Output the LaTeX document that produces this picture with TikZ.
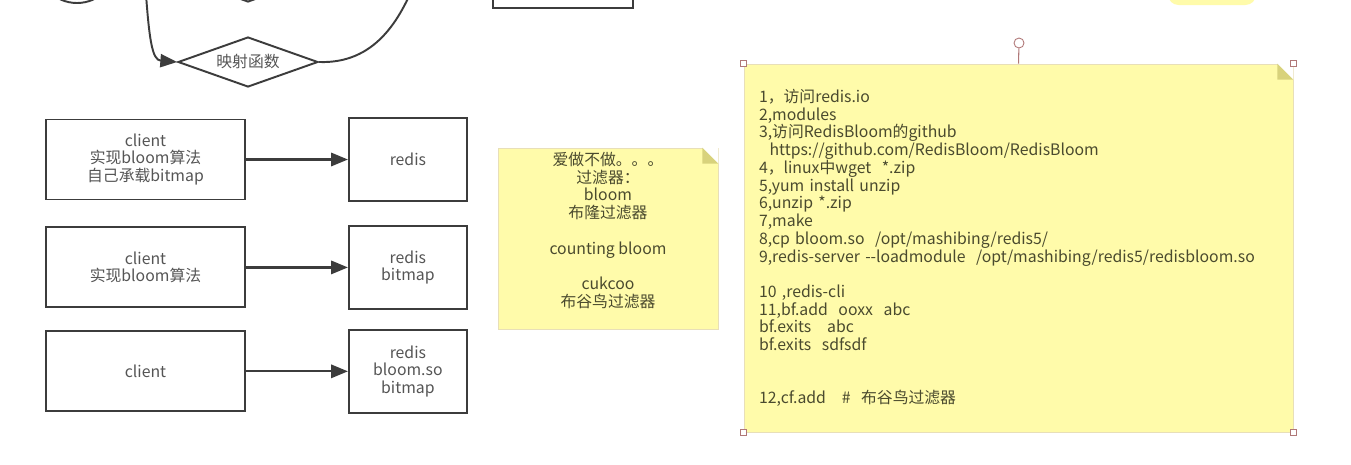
\documentclass[tikz,border=0pt]{standalone}
\usepackage{fontspec}
\setmainfont{Noto Sans CJK SC}
\usetikzlibrary{positioning, arrows.meta, shapes.geometric}

\definecolor{linegray}{HTML}{3C3C3C}
\definecolor{textgray}{HTML}{555555}
\definecolor{notefill}{HTML}{FFFBAA}
\definecolor{noteedge}{HTML}{E8DFB8}
\definecolor{notefold}{HTML}{D8D27C}
\definecolor{notetext}{HTML}{4A4A2E}
\definecolor{handle}{HTML}{B07878}

\tikzset{
  box/.style={draw=linegray, line width=1.1pt, align=center, text=textgray,
    font=\fontsize{9}{10.1}\selectfont, inner sep=0pt},
  client/.style={box, minimum width=3.98cm, minimum height=1.6cm},
  server/.style={box, minimum width=2.36cm, minimum height=1.66cm},
  choice/.style={box, diamond, aspect=2.8, minimum width=2.8cm, minimum height=1cm},
  link/.style={draw=linegray, line width=1.3pt},
  note/.style={fill=notefill, draw=noteedge, line width=0.4pt, text=notetext,
    font=\fontsize{9}{10.1}\selectfont, inner sep=0pt},
  grip/.style={draw=handle, fill=white, line width=0.5pt, minimum size=0.12cm, inner sep=0pt},
}

\begin{document}
\begin{tikzpicture}[x=0.02cm, y=-0.02cm, node distance=2.04cm,
    >={Triangle[length=9.5pt,width=7.5pt]}]
  \clip (0,0) rectangle (1351,464);
  \fill[white] (0,0) rectangle (1351,464);

  % cut off by the top edge
  \node[draw=linegray, line width=1.1pt, circle, minimum size=1.6cm] (start) at (77,-37) {};
  \node[choice] (check) at (248,-23) {};
  \node[box, minimum width=2.8cm, minimum height=1.52cm] (store) at (563,-30) {};
  \node[fill=notefill, rounded corners=6pt, minimum width=1.76cm, minimum height=0.6cm] (memo) at (1212,-10) {};
  \coordinate (hashin) at (145,-20);
  \coordinate (hashout) at (416,-20);

  \node[choice] (hash) at (248,62) {映射函数};
  \draw[linegray, line width=1.1pt, ->] (hashin) .. controls (149,40) and (152,60) .. (hash.west);
  \draw[linegray, line width=1.1pt] (hash.east) .. controls (375,64) and (400,20) .. (hashout);

  % three ways to use bloom
  \node[client] (client1) at (145.5,159.5) {client\\实现bloom算法\\自己承载bitmap};
  \node[server] (redis1) [right=of client1] {redis};
  \node[client] (client2) [below=0.52cm of client1] {client\\实现bloom算法};
  \node[server] (redis2) [right=of client2] {redis\\bitmap};
  \node[client] (client3) [below=0.44cm of client2] {client};
  \node[server] (redis3) [right=of client3] {redis\\bloom.so\\bitmap};

  \path[->]
    (client1) edge[link] (redis1)
    (client2) edge[link] (redis2)
    (client3) edge[link] (redis3);

  % notes
  \node[note, minimum width=4.4cm, minimum height=3.62cm, align=center] (kinds) at (608,238.5)
    {爱做不做。。。\\过滤器：\\bloom\\布隆过滤器\\[10.1pt]counting bloom\\[10.1pt]cukcoo\\布谷鸟过滤器\\\mbox{}};
  \fill[white] (kinds.north east) -- ++(-16,0) -- ++(16,16) -- cycle;
  \fill[notefold] (kinds.north east) ++(-16,0) -- ++(0,16) -- ++(16,0) -- cycle;

  \node[note, minimum width=10.98cm, minimum height=7.36cm, inner xsep=0.3cm,
    text width=10.38cm, align=left] (steps) at (1018.5,248)
    {1，访问redis.io\\
     2,modules\\
     3,访问RedisBloom的github\\
     \hspace*{6pt}https://github.com/RedisBloom/RedisBloom\\
     4，linux中wget~~*.zip\\
     5,yum install unzip\\
     6,unzip *.zip\\
     7,make\\
     8,cp bloom.so~~/opt/mashibing/redis5/\\
     9,redis-server -{}-loadmodule~~/opt/mashibing/redis5/redisbloom.so\\[10.1pt]
     10 ,redis-cli\\
     11,bf.add~~ooxx~~abc\\
     bf.exits~~~abc\\
     bf.exits~~sdfsdf\\[20.2pt]
     12,cf.add~~~\#~~布谷鸟过滤器};
  \fill[white] (steps.north east) -- ++(-16,0) -- ++(16,16) -- cycle;
  \fill[notefold] (steps.north east) ++(-16,0) -- ++(0,16) -- ++(16,0) -- cycle;

  % selection handles
  \node[grip] (nw) at (steps.north west) {};
  \node[grip] (ne) at (steps.north east) {};
  \node[grip] (sw) at (steps.south west) {};
  \node[grip] (se) at (steps.south east) {};
  \node[grip, circle, minimum size=0.2cm] (turn) at (1019,43) {};
  \draw[handle, line width=0.6pt] (turn) -- (steps.north);
\end{tikzpicture}
\end{document}
